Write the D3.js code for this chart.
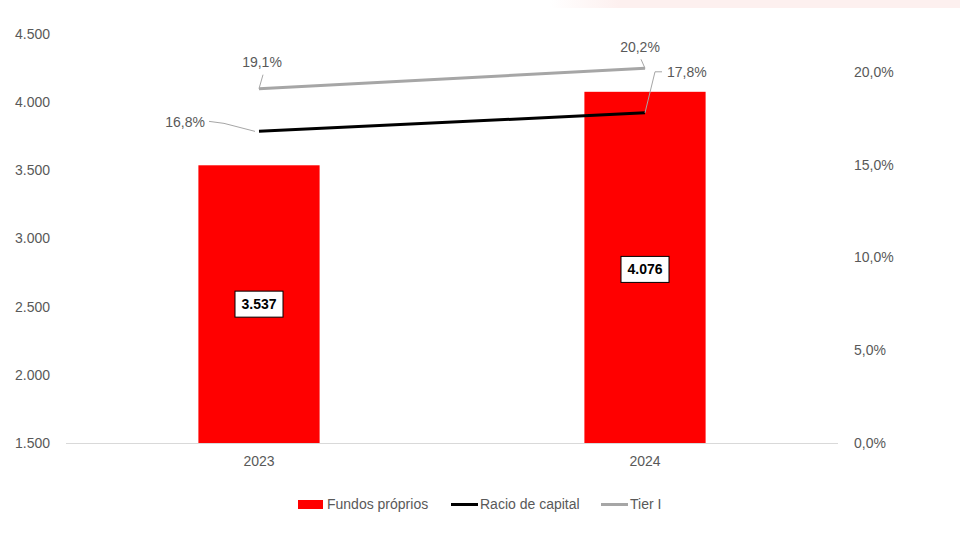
<!DOCTYPE html>
<html>
<head>
<meta charset="utf-8">
<script src="https://cdn.jsdelivr.net/npm/d3@7"></script>
<style>
  html, body { margin: 0; padding: 0; background: #fff; }
  svg { display: block; font-family: "Liberation Sans", Arial, sans-serif; }
</style>
</head>
<body>
<svg id="chart" width="960" height="534"></svg>
<script>
// Capital figures per year
const years = ["2023", "2024"];
const fundosProprios = [3537, 4076];
const racioCapital = [0.168, 0.178];
const tierI = [0.191, 0.202];
const leftTicks = [1500, 2000, 2500, 3000, 3500, 4000, 4500];
const rightTicks = [0, 0.05, 0.10, 0.15, 0.20];
const seriesNames = ["Fundos próprios", "Racio de capital", "Tier I"];

const svg = d3.select("#chart");
const W = 960, H = 534;
const plot = { left: 66, right: 838, top: 34, bottom: 443 };
const textGrey = "#595959";

// Thin pale band along the top edge
const defs = svg.append("defs");
const grad = defs.append("linearGradient").attr("id", "topBand")
  .attr("x1", "0").attr("x2", "1").attr("y1", "0").attr("y2", "0");
grad.append("stop").attr("offset", "0").attr("stop-color", "#fdf0ef").attr("stop-opacity", 0);
grad.append("stop").attr("offset", "0.17").attr("stop-color", "#fdf0ef").attr("stop-opacity", 1);
grad.append("stop").attr("offset", "1").attr("stop-color", "#fdf0ef").attr("stop-opacity", 1);
svg.append("rect").attr("x", 550).attr("y", 0).attr("width", 410).attr("height", 8)
  .attr("fill", "url(#topBand)");

// Scales
const x = d3.scaleBand().domain(years).range([plot.left, plot.right]).padding(0);
const barFrac = 0.314;
const yLeft = d3.scaleLinear().domain([1500, 4500]).range([plot.bottom, plot.top]);
const yRight = d3.scaleLinear().domain([0, 0.20]).range([plot.bottom, 72]);

// Left axis labels
const fmtInt = v => d3.format(",")(v).replace(/,/g, ".");
const leftAxis = d3.axisLeft(yLeft).tickValues(leftTicks).tickFormat(fmtInt).tickSize(0).tickPadding(0);
const gL = svg.append("g").attr("transform", "translate(50,0)").call(leftAxis);
gL.select(".domain").remove();
gL.selectAll("text").attr("fill", textGrey).style("font-size", "14px")
  .style("font-family", "Liberation Sans, Arial, sans-serif");

// Right axis labels
const fmtPct = v => d3.format(".1f")(v * 100).replace(".", ",") + "%";
const rightAxis = d3.axisRight(yRight).tickValues(rightTicks).tickFormat(fmtPct).tickSize(0).tickPadding(0);
const gR = svg.append("g").attr("transform", "translate(854,0)").call(rightAxis);
gR.select(".domain").remove();
gR.selectAll("text").attr("fill", textGrey).style("font-size", "14px")
  .style("font-family", "Liberation Sans, Arial, sans-serif");

// Category axis
svg.append("line").attr("x1", plot.left).attr("x2", plot.right)
  .attr("y1", plot.bottom + 0.5).attr("y2", plot.bottom + 0.5)
  .attr("stroke", "#d9d9d9").attr("stroke-width", 1);
const bottomAxis = d3.axisBottom(x).tickSize(0).tickPadding(0);
const gB = svg.append("g").attr("transform", `translate(0,${plot.bottom + 13})`).call(bottomAxis);
gB.select(".domain").remove();
gB.selectAll("text").attr("fill", textGrey).style("font-size", "14px")
  .style("font-family", "Liberation Sans, Arial, sans-serif");

// Bars
const bw = x.bandwidth() * barFrac;
const cx = d => x(d) + x.bandwidth() / 2;
svg.append("g").selectAll("rect").data(years).join("rect")
  .attr("x", d => cx(d) - bw / 2)
  .attr("width", bw)
  .attr("y", (d, i) => yLeft(fundosProprios[i]))
  .attr("height", (d, i) => plot.bottom - yLeft(fundosProprios[i]))
  .attr("fill", "#ff0000");

// Lines
const lineGen = yScale => d3.line().x((d, i) => cx(years[i])).y(d => yScale(d));
svg.append("path").datum(tierI).attr("d", lineGen(yRight))
  .attr("fill", "none").attr("stroke", "#a6a6a6").attr("stroke-width", 3).attr("stroke-linecap", "butt");
svg.append("path").datum(racioCapital).attr("d", lineGen(yRight))
  .attr("fill", "none").attr("stroke", "#000000").attr("stroke-width", 3).attr("stroke-linecap", "butt");

// Bar value labels in boxes
years.forEach((yr, i) => {
  const v = fundosProprios[i];
  const mx = cx(yr);
  const my = (yLeft(v) + plot.bottom) / 2 + (i === 1 ? 2 : 0);
  const g = svg.append("g");
  const t = g.append("text").attr("x", mx).attr("y", my + 5)
    .attr("text-anchor", "middle").attr("font-weight", "bold")
    .style("font-size", "14px").attr("fill", "#000").text(fmtInt(v));
  const bb = t.node().getBBox();
  g.insert("rect", "text")
    .attr("x", mx - 24).attr("y", my - 13).attr("width", 48).attr("height", 26)
    .attr("fill", "#fff").attr("stroke", "#000").attr("stroke-width", 1);
});

// Percentage labels with leader lines
const leader = "#a6a6a6";
function pctLabel(val, yr, lx, ly, anchor, pathPts) {
  svg.append("path").attr("d", d3.line()(pathPts))
    .attr("fill", "none").attr("stroke", leader).attr("stroke-width", 1);
  svg.append("text").attr("x", lx).attr("y", ly).attr("text-anchor", anchor)
    .style("font-size", "14px").attr("fill", textGrey).text(fmtPct(val));
}
{
  const x0 = cx(years[0]), x1 = cx(years[1]);
  const t0 = yRight(tierI[0]), t1 = yRight(tierI[1]);
  const r0 = yRight(racioCapital[0]), r1 = yRight(racioCapital[1]);
  pctLabel(tierI[0], years[0], x0 + 3, 67, "middle", [[x0, t0], [x0 + 4, t0 - 14]]);
  pctLabel(racioCapital[0], years[0], 205, 127, "end", [[x0 - 4, r0], [x0 - 35, r0 - 8], [209, r0 - 10]]);
  pctLabel(tierI[1], years[1], x1 - 5, 52, "middle", [[x1, t1], [x1 - 4, t1 - 9]]);
  pctLabel(racioCapital[1], years[1], 667, 77, "start", [[x1, r1], [x1 + 10, r1 - 41], [x1 + 17, r1 - 41]]);
}

// Legend
const legend = svg.append("g").attr("transform", "translate(0,504)");
const legItems = [
  { name: seriesNames[0], x: 298, type: "rect", color: "#ff0000" },
  { name: seriesNames[1], x: 451, type: "line", color: "#000000" },
  { name: seriesNames[2], x: 601, type: "line", color: "#a6a6a6" }
];
legItems.forEach(it => {
  if (it.type === "rect") {
    legend.append("rect").attr("x", it.x).attr("y", -4).attr("width", 25).attr("height", 9).attr("fill", it.color);
  } else {
    legend.append("line").attr("x1", it.x).attr("x2", it.x + 27).attr("y1", 0.5).attr("y2", 0.5)
      .attr("stroke", it.color).attr("stroke-width", 3);
  }
  legend.append("text").attr("x", it.x + 29).attr("y", 5).style("font-size", "14px")
    .attr("fill", textGrey).text(it.name);
});
</script>
</body>
</html>
